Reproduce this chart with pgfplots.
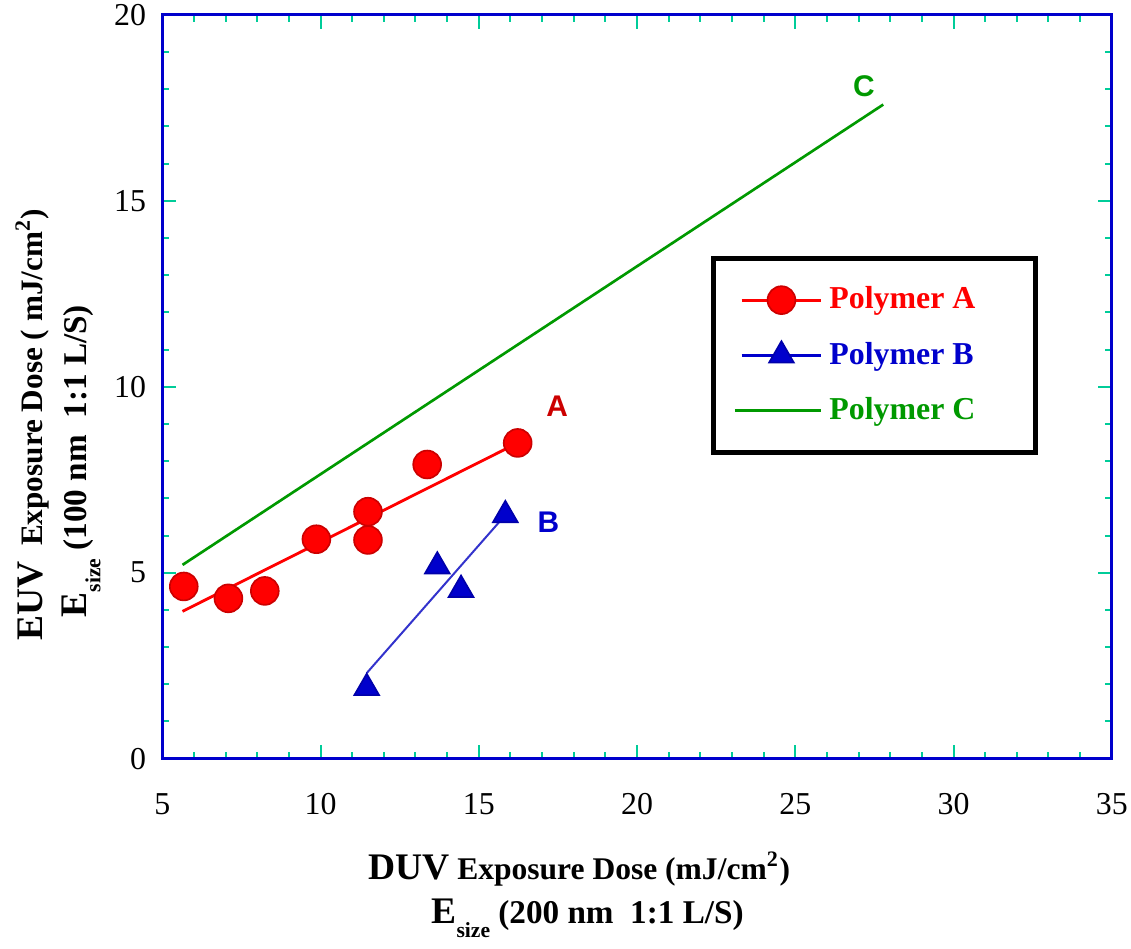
\documentclass[border=0pt]{standalone}
\usepackage{fontspec}
\setmainfont{Liberation Serif}
\newfontfamily\arialfont{Liberation Sans}
\usepackage{pgfplots}
\pgfplotsset{compat=1.18}
\definecolor{axisblue}{HTML}{0000CC}
\definecolor{tickgreen}{HTML}{00CC99}
\definecolor{polyA}{HTML}{FF0000}
\definecolor{polyAdark}{HTML}{CC0000}
\definecolor{polyB}{HTML}{0000CC}
\definecolor{polyBdark}{HTML}{0000AA}
\definecolor{polyBline}{HTML}{3333CC}
\definecolor{polyC}{HTML}{009900}

% legend samples: a line with one mark in the middle
\pgfplotsset{
    legA/.style={legend image code/.code={\draw[polyA, line width=0.9pt] (0pt,0pt)--(24pt,0pt);
        \draw[##1] plot coordinates {(12pt,0pt)};}},
    legB/.style={legend image code/.code={\draw[polyB, line width=0.9pt] (0pt,0pt)--(24pt,0pt);
        \draw[##1] plot coordinates {(12pt,0pt)};}},
    legC/.style={legend image code/.code={\draw[polyC, line width=0.9pt] (-2pt,0pt)--(24pt,0pt);}},
}

\begin{document}
\begin{tikzpicture}
\begin{axis}[
    scale only axis,
    width=286pt, height=224pt,
    xmin=5, xmax=35, ymin=0, ymax=20,
    xtick={5,10,...,35}, ytick={0,5,...,20},
    minor x tick num=4, minor y tick num=4,
    axis line style={draw=axisblue, line width=0.9pt},
    tick style={draw=tickgreen, line width=0.6pt},
    major tick length=4.2pt, minor tick length=2.1pt,
    tick align=inside,
    /pgf/number format/assume math mode=true,
    tick label style={font=\fontsize{9.6}{11}\selectfont, text=black, inner sep=1pt},
    xticklabel style={yshift=-9.2pt},
    yticklabel style={xshift=-3.7pt},
    clip=false,
    legend style={at={(0.578,0.676)}, anchor=north west, draw=black,
        line width=1.5pt, fill=white, inner xsep=6pt, inner ysep=6.5pt,
        row sep=4.5pt, font=\bfseries\fontsize{9.6}{11}\selectfont},
    legend cell align=left,
]
% fit lines
\addplot[polyA, line width=0.85pt, forget plot] coordinates {(5.64,3.96) (16.23,8.49)};
\addplot[polyBline, line width=0.6pt, forget plot] coordinates {(11.46,2.3) (15.84,6.55)};

% Polymer A
\addplot[only marks, mark=*, mark size=4.2pt,
    mark options={draw=polyAdark, fill=polyA, line width=0.5pt}, legA
] coordinates {
    (5.68,4.63) (7.09,4.31) (8.24,4.51) (9.87,5.90)
    (11.5,6.64) (11.5,5.88) (13.37,7.91) (16.23,8.49)
};
\addlegendentry{\makebox[54pt][l]{\color{polyA}Polymer A}}

% Polymer B
\addplot[only marks, mark=triangle*, mark size=4.3pt,
    mark options={draw=polyBdark, fill=polyB, line width=0.5pt}, legB
] coordinates {
    (11.46,1.90) (13.69,5.17) (14.44,4.54) (15.84,6.55)
};
\addlegendentry{\makebox[54pt][l]{\color{polyB}Polymer B}}

% Polymer C
\addplot[polyC, line width=0.8pt, legC] coordinates {(5.64,5.21) (27.78,17.59)};
\addlegendentry{\makebox[54pt][l]{\color{polyC}Polymer C}}

% curve labels
\node[font=\arialfont\bfseries\fontsize{9}{10}\selectfont, text=polyAdark] at (axis cs:17.48,9.49) {A};
\node[font=\arialfont\bfseries\fontsize{9}{10}\selectfont, text=polyB] at (axis cs:17.2,6.35) {B};
\node[font=\arialfont\bfseries\fontsize{9}{10}\selectfont, text=polyC] at (axis cs:27.17,18.07) {C};

% x axis title (two lines)
\node[anchor=base, font=\bfseries\fontsize{9.5}{11}\selectfont] at (axis description cs:0.439,-0.162)
    {{\fontsize{11.3}{13}\selectfont DUV} Exposure Dose (mJ/cm\textsuperscript{2})};
\node[anchor=base, font=\bfseries\fontsize{10}{11}\selectfont] at (axis description cs:0.448,-0.222)
    {{\fontsize{11.3}{12}\selectfont E}\raisebox{-0.9ex}{\fontsize{6.5}{7}\selectfont size}\ (200 nm\ \ 1:1 L/S)};

% y axis title (two lines)
\node[anchor=base, rotate=90, font=\bfseries\fontsize{9.4}{11}\selectfont] at (axis description cs:-0.126,0.449)
    {{\fontsize{11.3}{13}\selectfont EUV}\ \ Exposure Dose ( mJ/cm\textsuperscript{2})};
\node[anchor=base, rotate=90, font=\bfseries\fontsize{10}{11}\selectfont] at (axis description cs:-0.0797,0.40)
    {{\fontsize{11.3}{12}\selectfont E}\raisebox{-0.9ex}{\fontsize{6.5}{7}\selectfont size}\ (100 nm\ \ 1:1 L/S)};

% page extent
\path (axis description cs:-0.1709,-0.248) rectangle (axis description cs:1.018,1.0201);
\end{axis}
\end{tikzpicture}
\end{document}
